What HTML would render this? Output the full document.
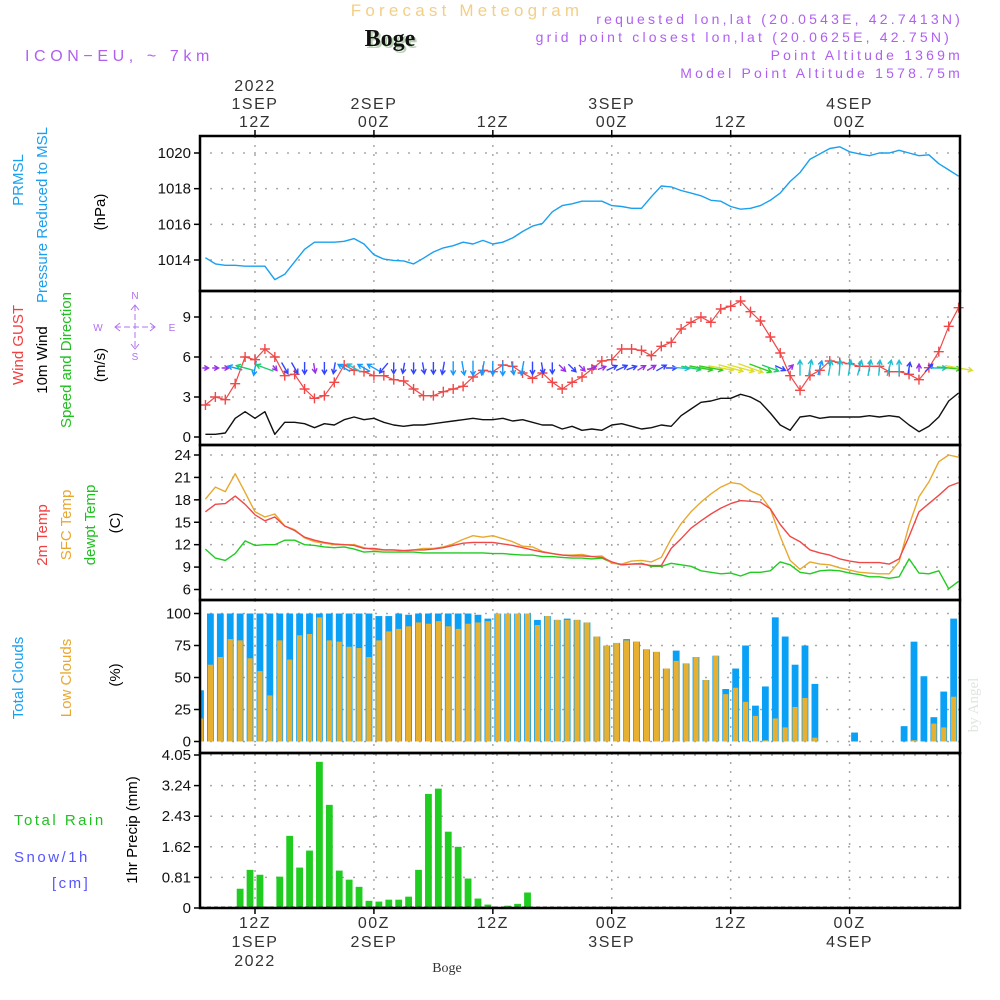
<!DOCTYPE html>
<html><head><meta charset="utf-8"><title>Meteogram Boge</title>
<style>
html,body{margin:0;padding:0;background:#fff;}
svg{display:block;font-family:"Liberation Sans",sans-serif;}
</style></head>
<body>
<svg id="chart" width="1000" height="1000" viewBox="0 0 1000 1000" xmlns="http://www.w3.org/2000/svg">
<g id="header">
<text x="467" y="16" text-anchor="middle" font-size="17" letter-spacing="4.2" fill="#f3cf86">Forecast Meteogram</text>
<text x="392" y="48" text-anchor="middle" font-size="24" font-weight="bold" font-family="Liberation Serif, serif" fill="#b9d4b4">Boge</text>
<text x="390" y="46" text-anchor="middle" font-size="24" font-weight="bold" font-family="Liberation Serif, serif" fill="#111">Boge</text>
<text x="25" y="61" font-size="16" letter-spacing="4.6" fill="#b060f0">ICON−EU, ~ 7km</text>
<text x="963" y="24" text-anchor="end" font-size="14" letter-spacing="3.2" fill="#b060f0">requested lon,lat (20.0543E, 42.7413N)</text>
<text x="952" y="42" text-anchor="end" font-size="14" letter-spacing="3.2" fill="#b060f0">grid point closest lon,lat (20.0625E, 42.75N)</text>
<text x="963" y="60" text-anchor="end" font-size="14" letter-spacing="3.2" fill="#b060f0">Point Altitude 1369m</text>
<text x="963" y="78" text-anchor="end" font-size="14" letter-spacing="3.2" fill="#b060f0">Model Point Altitude 1578.75m</text>
<text x="978" y="705" text-anchor="middle" font-size="15" font-family="Liberation Serif, serif" fill="#dfe5df" transform="rotate(-90 978 705)">by Angel</text>
</g>
<g id="ylabels" font-size="15">
<text transform="translate(23,180) rotate(-90)" text-anchor="middle" fill="#1aa0f0">PRMSL</text>
<text transform="translate(47,215) rotate(-90)" text-anchor="middle" fill="#1aa0f0">Pressure Reduced to MSL</text>
<text transform="translate(105,212) rotate(-90)" text-anchor="middle" fill="#000">(hPa)</text>
<text transform="translate(23,345) rotate(-90)" text-anchor="middle" fill="#f04040">Wind GUST</text>
<text transform="translate(47,360) rotate(-90)" text-anchor="middle" fill="#000">10m Wind</text>
<text transform="translate(71,360) rotate(-90)" text-anchor="middle" fill="#20c020">Speed and Direction</text>
<text transform="translate(105,365) rotate(-90)" text-anchor="middle" fill="#000">(m/s)</text>
<text transform="translate(47,535) rotate(-90)" text-anchor="middle" fill="#f04040">2m Temp</text>
<text transform="translate(71,525) rotate(-90)" text-anchor="middle" fill="#e8a830">SFC Temp</text>
<text transform="translate(95,525) rotate(-90)" text-anchor="middle" fill="#20c020">dewpt Temp</text>
<text transform="translate(120,523) rotate(-90)" text-anchor="middle" fill="#000">(C)</text>
<text transform="translate(23,678) rotate(-90)" text-anchor="middle" fill="#1aa0f0">Total Clouds</text>
<text transform="translate(71,678) rotate(-90)" text-anchor="middle" fill="#e8a830">Low Clouds</text>
<text transform="translate(120,675) rotate(-90)" text-anchor="middle" fill="#000">(%)</text>
<text transform="translate(137,830) rotate(-90)" text-anchor="middle" fill="#000">1hr Precip (mm)</text>
<text x="14" y="825" fill="#20c020" letter-spacing="2.5">Total   Rain</text>
<text x="14" y="862" fill="#5555ff" letter-spacing="2.5">Snow/1h</text>
<text x="52" y="888" fill="#5555ff" letter-spacing="2.5">[cm]</text>
</g>
<g id="compass" stroke="#b070f0" fill="none" stroke-width="1">
<line x1="115" y1="327" x2="155" y2="327" stroke-dasharray="6 3"/>
<line x1="135" y1="305" x2="135" y2="349" stroke-dasharray="6 3"/>
<polyline points="120,323 115,327 120,331"/><polyline points="150,323 155,327 150,331"/>
<polyline points="131,310 135,305 139,310"/><polyline points="131,344 135,349 139,344"/>
<text x="135" y="299" font-size="10" fill="#b070f0" stroke="none" text-anchor="middle">N</text>
<text x="135" y="360" font-size="10" fill="#b070f0" stroke="none" text-anchor="middle">S</text>
<text x="98" y="331" font-size="10" fill="#b070f0" stroke="none" text-anchor="middle">W</text>
<text x="172" y="331" font-size="10" fill="#b070f0" stroke="none" text-anchor="middle">E</text>
</g>
<g id="grid"></g>
<g id="marks"></g>
<g id="axes"></g>
</svg>
<script>
// ---- data (hourly, first line point 07Z 1 SEP 2022) ----
const pressure = [1014.13,1013.78,1013.7,1013.7,1013.65,1013.65,1013.65,1012.9,1013.2,1013.9,1014.6,1015.0,1015.0,1015.0,1015.05,1015.2,1014.9,1014.3,1014.05,1013.98,1013.95,1013.78,1014.1,1014.45,1014.68,1014.8,1015.0,1014.9,1015.1,1014.9,1015.0,1015.24,1015.6,1015.9,1016.05,1016.7,1017.05,1017.15,1017.3,1017.3,
1017.3,1017.05,1017.0,1016.9,1016.9,1017.55,1018.15,1018.1,1017.9,1017.75,1017.6,1017.35,1017.3,1017.0,1016.85,1016.9,1017.05,1017.35,1017.75,1018.4,1018.9,1019.65,1019.95,1020.25,1020.35,1020.07,1019.95,1019.85,1020.0,1020.0,1020.15,1020.0,1019.85,1019.9,1019.4,1019.05,1018.7];
const gust = [2.4,3.0,2.8,4.0,6.0,5.8,6.6,6.0,4.6,4.7,3.6,2.9,3.1,4.1,5.4,5.0,4.9,4.6,4.6,4.3,4.2,3.6,3.1,3.1,3.4,3.6,3.8,4.5,5.0,4.9,5.4,5.3,4.8,4.4,4.8,4.1,3.6,4.1,4.5,5.1,
5.7,5.8,6.6,6.6,6.5,6.1,6.8,7.1,8.1,8.6,9.0,8.6,9.6,9.8,10.2,9.4,8.7,7.5,6.3,4.6,3.5,4.6,5.0,5.7,5.6,5.5,5.3,5.3,5.3,4.9,4.9,4.7,4.3,5.2,6.4,8.3,9.7];
const windSpeed = [0.2,0.2,0.3,1.4,1.9,1.4,1.9,0.2,1.1,1.1,1.0,0.7,1.0,0.9,1.3,1.5,1.3,1.4,1.1,0.9,0.8,0.9,0.9,1.0,1.1,1.2,1.3,1.4,1.3,1.3,1.4,1.2,1.3,1.1,0.9,0.9,0.6,0.8,0.5,0.6,
0.5,0.9,1.0,0.8,0.6,0.7,0.9,0.8,1.6,2.1,2.6,2.7,2.9,2.9,3.2,3.0,2.6,1.8,0.9,0.5,1.5,1.6,1.4,1.5,1.5,1.5,1.5,1.6,1.5,1.6,1.5,0.9,0.4,0.8,1.5,2.7,3.3];
const windDir = [90,90,90,285,285,190,290,140,150,150,180,170,180,190,300,300,300,300,220,180,190,180,170,180,190,180,170,180,190,180,180,170,190,180,170,180,135,135,135,70,
70,65,65,70,60,60,60,90,95,100,100,100,100,105,105,110,110,110,115,45,0,10,15,10,5,10,15,10,5,15,0,10,0,45,90,95,100];
const temp2m = [16.4,17.4,17.5,18.5,17.4,16.0,15.2,15.7,14.5,13.9,13.0,12.6,12.3,12.1,12.0,11.9,11.5,11.5,11.3,11.3,11.2,11.3,11.3,11.4,11.6,11.9,12.2,12.3,12.3,12.3,12.1,11.9,11.6,11.3,11.0,10.8,10.6,10.5,10.5,10.4,
10.3,9.7,9.3,9.4,9.4,9.2,9.2,11.5,12.8,14.2,15.2,16.1,16.9,17.5,17.9,17.8,17.7,16.8,14.7,13.1,12.4,11.3,10.9,10.6,10.1,9.8,9.6,9.6,9.6,9.4,10.1,13.1,16.4,17.5,18.6,19.8,20.3];
const tempSfc = [18.1,19.7,19.1,21.5,19.0,16.4,15.7,16.1,14.5,14.0,12.9,12.4,12.2,12.0,12.0,12.0,11.6,11.3,11.3,11.3,11.1,11.3,11.5,11.5,11.7,12.1,12.7,13.2,13.0,13.2,12.8,12.4,11.8,11.7,11.1,10.8,10.6,10.6,10.7,10.4,
10.5,9.5,9.4,9.8,9.9,9.7,10.3,12.8,14.8,16.4,17.7,18.8,19.7,20.3,20.1,19.2,18.6,16.8,13.1,9.9,8.7,9.7,9.4,9.3,8.9,8.6,8.3,8.2,8.1,8.1,9.7,14.6,18.4,20.4,23.1,24.0,23.7];
const dewpt = [11.4,10.2,9.9,10.8,12.5,11.9,12.0,12.0,12.6,12.6,12.0,11.9,11.7,11.6,11.7,11.4,11.0,11.1,11.0,11.0,11.0,11.0,10.9,10.9,10.9,10.9,10.9,10.9,10.9,10.8,10.8,10.7,10.6,10.6,10.4,10.4,10.3,10.2,10.2,10.1,
10.2,9.6,9.3,9.4,9.5,9.1,9.1,9.5,9.3,9.1,8.5,8.3,8.1,8.2,7.8,8.3,8.3,8.5,9.7,9.3,8.3,8.1,8.5,8.6,8.5,8.2,8.0,7.7,7.7,7.5,7.7,10.1,8.2,8.1,8.5,6.1,7.1];
// bars: first bar centred at 06:30Z 1 SEP
const totalClouds = [40,100,100,100,100,100,100,100,100,100,100,100,100,100,100,100,100,100,98,98,100,99,100,100,100,100,100,100,99,96,100,100,100,100,95,98,95,96,95,93,82,75,77,80,78,72,70,57,71,61,66,48,67,41,57,75,28,43,97,82,60,75,45,0,0,0,7,0,0,0,0,12,78,51,19,39,96];
const lowClouds = [18,60,66,80,79,65,55,36,79,64,83,84,97,79,78,74,73,66,79,86,88,90,93,92,94,90,88,92,93,94,100,100,100,100,91,98,95,95,95,93,82,75,77,79,78,72,70,57,63,61,66,48,67,37,42,31,20,1,18,11,27,34,3,0,0,0,0,0,0,0,0,0,1,0,14,11,35];
const precip = [0,0,0,0,0.51,1.01,0.88,0.04,0.83,1.91,1.07,1.52,3.87,2.73,0.99,0.75,0.56,0.19,0.17,0.22,0.22,0.3,1.01,3.02,3.16,2.02,1.62,0.78,0.25,0.09,0,0.06,0.11,0.41,0,0,0,0,0,0,0,0,0,0,0,0,0,0,0,0,0,0,0,0,0,0,0,0,0,0,0,0,0,0,0,0,0,0,0,0,0,0,0,0,0,0,0];
const pressureTicks = [1014,1016,1018,1020];
const windTicks = [0,3,6,9];
const tempTicks = [6,9,12,15,18,21,24];
const cloudTicks = [0,25,50,75,100];
const precipTicks = [0,0.81,1.62,2.43,3.24,4.05];
const timeTickHours = [12,24,36,48,60,72];
const timeTickTop = [["2022","1SEP","12Z"],["","2SEP","00Z"],["","","12Z"],["","3SEP","00Z"],["","","12Z"],["","4SEP","00Z"]];
const timeTickBottom = [["12Z","1SEP","2022"],["00Z","2SEP",""],["12Z","",""],["00Z","3SEP",""],["12Z","",""],["00Z","4SEP",""]];

// ---- scales ----
const NS="http://www.w3.org/2000/svg";
const X0=200,X1=960;
const xh = h => 255 + (h-12)*9.91;
const lineH = i => 7+i;
const barH = k => 6.5+k;
function lin(d0,d1,r0,r1){return v=>r0+(v-d0)*(r1-r0)/(d1-d0);}
const yP = lin(1014,1020,260,153);
const yW = lin(0,9,437,317);
const yT = lin(6,24,589.5,455);
const yC = lin(0,100,741.5,613.5);
const yR = lin(0,4.05,908,755);
const panels=[{t:136,b:291,ticks:pressureTicks,y:yP,fmt:v=>String(v),name:'pressure'},
 {t:291,b:445,ticks:windTicks,y:yW,fmt:v=>String(v),name:'wind'},
 {t:445,b:600,ticks:tempTicks,y:yT,fmt:v=>String(v),name:'temperature'},
 {t:600,b:753,ticks:cloudTicks,y:yC,fmt:v=>String(v),name:'clouds'},
 {t:753,b:908,ticks:precipTicks,y:yR,fmt:v=>v===0?"0":v.toFixed(2),name:'precip'}];

function mk(tag,attrs,parent){const e=document.createElementNS(NS,tag);for(const k in attrs)e.setAttribute(k,attrs[k]);parent.appendChild(e);return e;}
const grid=document.getElementById('grid'),marks=document.getElementById('marks'),axes=document.getElementById('axes');

panels.forEach(p=>{
  timeTickHours.forEach(h=>{
    const l=mk('line',{x1:xh(h),x2:xh(h),y1:p.t,y2:p.b,stroke:'#a8a8a8','stroke-width':1.5,'stroke-dasharray':'2 7'},grid);
    
    
  });
  p.ticks.forEach(v=>{
    const y=p.y(v);
    const g=mk('line',{x1:X0+10,x2:X1,y1:y,y2:y,stroke:'#a8a8a8','stroke-width':1.5,'stroke-dasharray':'2 9'},grid);
    
    
    mk('line',{x1:X0-6,x2:X0,y1:y,y2:y,stroke:'#000','stroke-width':1.5},axes);
    const t=mk('text',{x:X0-9,y:y+5,'text-anchor':'end','font-size':15,fill:'#111'},axes);
    t.textContent=p.fmt(v);
    
    
  });
  const r=mk('rect',{x:X0,y:p.t,width:X1-X0,height:p.b-p.t,fill:'none',stroke:'#000','stroke-width':2.5},axes);
  
  
});
timeTickHours.forEach((h,i)=>{
  const x=xh(h);
  mk('line',{x1:x,x2:x,y1:130,y2:136,stroke:'#000','stroke-width':1.5},axes);
  mk('line',{x1:x,x2:x,y1:908,y2:914,stroke:'#000','stroke-width':1.5},axes);
  timeTickTop[i].forEach((s,j)=>{ if(!s)return;
    const t=mk('text',{x:x,y:91+j*18,'text-anchor':'middle','font-size':16,fill:'#333','letter-spacing':1.5},axes);
    t.textContent=s;
    
    
  });
  timeTickBottom[i].forEach((s,j)=>{ if(!s)return;
    const t=mk('text',{x:x,y:928+j*19,'text-anchor':'middle','font-size':16,fill:'#333','letter-spacing':1.5},axes);
    t.textContent=s;
    
    
  });
});
{const t=mk('text',{x:447,y:972,'text-anchor':'middle','font-size':14,'font-family':'Liberation Serif, serif',fill:'#333'},axes);t.textContent='Boge';

}

function poly(arr,y,color,name,w){
  const pts=arr.map((v,i)=>xh(lineH(i)).toFixed(1)+','+y(v).toFixed(1)).join(' ');
  const p=mk('polyline',{points:pts,fill:'none',stroke:color,'stroke-width':w||1.4,'stroke-linejoin':'round'},marks);
  
  
}
poly(pressure,yP,'#1aa0f0','pressure-line');
poly(windSpeed,yW,'#111','wind-speed-line');
poly(gust,yW,'#f04848','wind-gust-line',1.2);
gust.forEach((v,i)=>{
  const x=xh(lineH(i)),y=yW(v);
  const g=mk('path',{d:`M${x-5},${y}H${x+5}M${x},${y-5}V${y+5}`,stroke:'#f04848','stroke-width':1.4},marks);
  
  
});
function spColor(s){if(s<0.75)return'#9a30e8';if(s<1.2)return'#3344ff';if(s<1.45)return'#1599ff';if(s<1.75)return'#20bfd0';if(s<2.5)return'#20cc70';if(s<2.9)return'#30cc20';return'#dddd30';}
windDir.forEach((d,i)=>{
  const s=windSpeed[i],L=5+7*s,x=xh(lineH(i)),y=368,a=d*Math.PI/180;
  const dx=Math.sin(a)*L,dy=-Math.cos(a)*L;
  const x0=x-dx/2,y0=y-dy/2,x1=x+dx/2,y1=y+dy/2;
  const ux=dx/L,uy=dy/L,hl=5;
  const hx1=x1-hl*(ux*0.87-uy*0.5),hy1=y1-hl*(uy*0.87+ux*0.5);
  const hx2=x1-hl*(ux*0.87+uy*0.5),hy2=y1-hl*(uy*0.87-ux*0.5);
  const p=mk('path',{d:`M${x0.toFixed(1)},${y0.toFixed(1)}L${x1.toFixed(1)},${y1.toFixed(1)}M${hx1.toFixed(1)},${hy1.toFixed(1)}L${x1.toFixed(1)},${y1.toFixed(1)}L${hx2.toFixed(1)},${hy2.toFixed(1)}`,stroke:spColor(s),'stroke-width':1.4,fill:'none'},marks);
  
  
});
poly(dewpt,yT,'#20cc20','dewpoint-line');
poly(tempSfc,yT,'#e8a830','surface-temp-line');
poly(temp2m,yT,'#f04848','temp-2m-line');
totalClouds.forEach((v,k)=>{
  const x=xh(barH(k));
  const x0=Math.max(X0+1,x-3.4),x1=Math.min(X1-1,x+3.4);
  if(v>0){const r=mk('rect',{x:x0,y:yC(v),width:x1-x0,height:yC(0)-yC(v),fill:'#0aa0f5'},marks);
  
  }
  const lv=lowClouds[k];
  if(lv>0){const a=Math.max(X0+1,x-2.6),b=Math.min(X1-1,x+2.6);
  const r2=mk('rect',{x:a,y:yC(lv),width:b-a,height:yC(0)-yC(lv),fill:'#e8b030'},marks);
  
  }
});
precip.forEach((v,k)=>{
  if(v<=0)return;
  const x=xh(barH(k));
  const r=mk('rect',{x:x-3.4,y:yR(v),width:6.8,height:yR(0)-yR(v),fill:'#20cc20'},marks);
  
  
});
mk('line',{x1:X0,x2:X1,y1:907,y2:907,stroke:'#444','stroke-width':1,'stroke-dasharray':'4 3'},marks);
</script>
</body></html>
